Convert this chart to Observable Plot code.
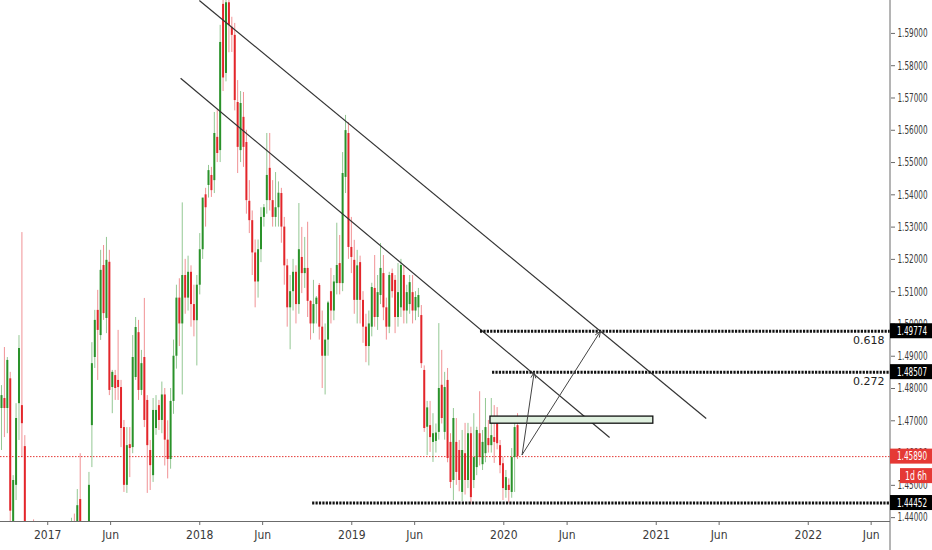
<!DOCTYPE html>
<html><head><meta charset="utf-8">
<script src="https://cdn.jsdelivr.net/npm/d3@7"></script>
<script src="https://cdn.jsdelivr.net/npm/@observablehq/plot@0.6"></script>
<style>
  html,body{margin:0;padding:0;background:#fff;}
  svg{display:block;}
</style>
</head><body>
<div id="chart"></div>
<script>
// ---------- DATA (weekly candles, first week 2016-09-12) ----------
const firstWeek = "2016-09-12";
const open = [1.4738,1.4769,1.4738,1.4830,1.4380,1.4500,1.4753,1.4747,1.4620,1.4300,
1.4180,1.4260,1.4220,1.4100,1.4150,1.4050,1.3980,1.4060,1.4000,1.4080,
1.4020,1.3950,1.4050,1.4150,1.4250,1.4370,1.4300,1.4456,1.4330,1.4370,
1.4320,1.4685,1.4896,1.5042,1.4964,1.5181,1.5017,1.5191,1.4803,1.4840,
1.4825,1.4803,1.4679,1.4500,1.4626,1.4617,1.4834,1.4973,1.4794,1.4896,
1.4763,1.4608,1.4530,1.4676,1.4747,1.4701,1.4780,1.4640,1.4580,1.4760,
1.4900,1.5080,1.5000,1.5150,1.5080,1.5160,1.5060,1.5010,1.5120,1.5230,
1.5400,1.5429,1.5460,1.5444,1.5578,1.5537,1.5990,1.5776,1.5995,1.5919,
1.5894,1.5686,1.5537,1.5640,1.5562,1.5380,1.5320,1.5220,1.5130,1.5230,
1.5330,1.5382,1.5482,1.5382,1.5330,1.5360,1.5404,1.5300,1.5180,1.5050,
1.5100,1.5160,1.5060,1.5206,1.5156,1.5172,1.5070,1.5000,1.5060,1.5119,
1.4990,1.4900,1.4950,1.5100,1.5040,1.5125,1.5187,1.5125,1.5454,1.5590,
1.5237,1.5197,1.5073,1.5190,1.5073,1.4990,1.4930,1.4990,1.5110,1.5020,
1.5088,1.5156,1.5050,1.4990,1.5156,1.5135,1.5020,1.5050,1.5150,1.5040,
1.5060,1.5097,1.5040,1.5050,1.5026,1.4856,1.4680,1.4685,1.4633,1.4636,
1.4664,1.4810,1.4664,1.4825,1.4633,1.4515,1.4633,1.4608,1.4478,1.4598,
1.4515,1.4660,1.4515,1.4555,1.4660,1.4564,1.4598,1.4645,1.4623,1.4648,
1.4691,1.4623,1.4567,1.4484,1.4500,1.4478,1.4586,1.4685];
const high = [1.4809,1.4927,1.4896,1.4850,1.4530,1.4753,1.4964,1.5283,1.4654,1.4370,
1.4300,1.4393,1.4270,1.4200,1.4180,1.4100,1.4120,1.4130,1.4150,1.4120,
1.4060,1.4100,1.4200,1.4300,1.4398,1.4411,1.4487,1.4598,1.4385,1.4386,
1.4540,1.4942,1.5042,1.5104,1.5228,1.5243,1.5268,1.5228,1.4856,1.4856,
1.4980,1.4825,1.4701,1.4679,1.4679,1.4964,1.5020,1.5011,1.4918,1.5079,
1.4778,1.4639,1.4769,1.4778,1.4763,1.4820,1.4800,1.4700,1.4800,1.4950,
1.5120,1.5140,1.5375,1.5200,1.5210,1.5180,1.5120,1.5150,1.5280,1.5380,
1.5420,1.5491,1.5485,1.5655,1.5662,1.5925,1.6050,1.6060,1.6040,1.5950,
1.5931,1.5754,1.5720,1.5717,1.5600,1.5444,1.5350,1.5260,1.5260,1.5360,
1.5370,1.5590,1.5590,1.5444,1.5469,1.5440,1.5420,1.5330,1.5200,1.5150,
1.5200,1.5180,1.5373,1.5299,1.5268,1.5315,1.5072,1.5135,1.5085,1.5125,
1.5040,1.5000,1.5070,1.5172,1.5150,1.5312,1.5274,1.5531,1.5646,1.5624,
1.5330,1.5259,1.5228,1.5210,1.5100,1.5030,1.5040,1.5126,1.5212,1.5150,
1.5249,1.5212,1.5080,1.5160,1.5170,1.5150,1.5187,1.5200,1.5180,1.5120,
1.5150,1.5150,1.5100,1.5110,1.5057,1.4870,1.4760,1.4760,1.4722,1.4690,
1.5001,1.4918,1.4850,1.4862,1.4660,1.4738,1.4707,1.4639,1.4670,1.4692,
1.4692,1.4680,1.4722,1.4680,1.4790,1.4670,1.4769,1.4701,1.4769,1.4747,
1.4741,1.4639,1.4586,1.4546,1.4520,1.4614,1.4692,1.4722];
const low = [1.4608,1.4648,1.4660,1.4380,1.4340,1.4453,1.4639,1.4586,1.4250,1.4120,
1.4130,1.4150,1.4050,1.4030,1.3980,1.3900,1.3950,1.3960,1.3970,1.3950,
1.3880,1.3920,1.4020,1.4100,1.4220,1.4250,1.4270,1.4300,1.4280,1.4250,
1.4300,1.4555,1.4862,1.4825,1.4949,1.5011,1.4970,1.4778,1.4722,1.4763,
1.4763,1.4617,1.4478,1.4475,1.4524,1.4598,1.4825,1.4763,1.4778,1.4679,
1.4475,1.4484,1.4509,1.4655,1.4670,1.4660,1.4560,1.4520,1.4550,1.4720,
1.4860,1.4930,1.4780,1.5030,1.5040,1.4990,1.4960,1.4870,1.5090,1.5200,
1.5300,1.5390,1.5392,1.5404,1.5500,1.5500,1.5720,1.5750,1.5840,1.5841,
1.5660,1.5466,1.5500,1.5485,1.5340,1.5280,1.5150,1.5050,1.5080,1.5190,
1.5300,1.5340,1.5350,1.5300,1.5300,1.5300,1.5250,1.5120,1.4990,1.4920,
1.5040,1.5000,1.5030,1.5094,1.5110,1.5020,1.4950,1.4970,1.5000,1.4950,
1.4800,1.4780,1.4900,1.5000,1.5010,1.5090,1.5090,1.5100,1.5404,1.5200,
1.5156,1.5030,1.5000,1.5000,1.4940,1.4880,1.4870,1.4960,1.4990,1.4980,
1.5060,1.5010,1.4950,1.4970,1.5080,1.4970,1.4990,1.5020,1.5000,1.5000,
1.5030,1.5000,1.5010,1.5020,1.4862,1.4664,1.4592,1.4602,1.4571,1.4600,
1.4640,1.4690,1.4640,1.4570,1.4490,1.4453,1.4500,1.4480,1.4450,1.4470,
1.4490,1.4440,1.4490,1.4530,1.4560,1.4546,1.4570,1.4600,1.4600,1.4568,
1.4610,1.4536,1.4453,1.4460,1.4445,1.4460,1.4478,1.4580];
const close = [1.4778,1.4738,1.4887,1.4420,1.4515,1.4707,1.4924,1.4691,1.4300,1.4180,
1.4260,1.4220,1.4100,1.4150,1.4050,1.3980,1.4060,1.4000,1.4080,1.4020,
1.3950,1.4050,1.4150,1.4250,1.4370,1.4300,1.4437,1.4330,1.4370,1.4320,
1.4500,1.4877,1.5011,1.4980,1.5166,1.5032,1.5197,1.4794,1.4850,1.4800,
1.4803,1.4676,1.4500,1.4623,1.4614,1.4896,1.4989,1.4794,1.4877,1.4701,
1.4623,1.4561,1.4732,1.4732,1.4701,1.4780,1.4640,1.4580,1.4760,1.4900,
1.5080,1.5000,1.5150,1.5080,1.5160,1.5060,1.5010,1.5120,1.5230,1.5390,
1.5360,1.5475,1.5413,1.5590,1.5528,1.5872,1.5762,1.5995,1.5925,1.5894,
1.5692,1.5547,1.5683,1.5547,1.5382,1.5320,1.5220,1.5130,1.5230,1.5330,
1.5360,1.5460,1.5382,1.5330,1.5360,1.5405,1.5300,1.5180,1.5050,1.5100,
1.5160,1.5060,1.5230,1.5156,1.5172,1.5070,1.5000,1.5060,1.5080,1.4990,
1.4900,1.4950,1.5065,1.5040,1.5130,1.5181,1.5125,1.5466,1.5599,1.5237,
1.5206,1.5073,1.5180,1.5073,1.4990,1.4930,1.5000,1.5113,1.5020,1.5097,
1.5172,1.5050,1.4990,1.5150,1.5100,1.5020,1.5097,1.5181,1.5040,1.5097,
1.5128,1.5040,1.5082,1.5088,1.4877,1.4676,1.4740,1.4648,1.4660,1.4662,
1.4800,1.4707,1.4803,1.4583,1.4509,1.4707,1.4540,1.4515,1.4608,1.4515,
1.4660,1.4462,1.4586,1.4670,1.4586,1.4633,1.4679,1.4623,1.4654,1.4633,
1.4629,1.4561,1.4490,1.4524,1.4484,1.4586,1.4679,1.4589];

// price axis ticks and time axis ticks
const yTicks = [1.44,1.45,1.46,1.47,1.48,1.49,1.50,1.51,1.52,1.53,1.54,1.55,1.56,1.57,1.58,1.59];
const xTickDates = ["2017-01-01","2017-06-01","2018-01-01","2018-06-01","2019-01-01","2019-06-01",
                    "2020-01-01","2020-06-01","2021-01-01","2021-06-01","2022-01-01","2022-06-01"];
const xTickLabels = ["2017","Jun","2018","Jun","2019","Jun","2020","Jun","2021","Jun","2022","Jun"];

// annotations
const trendStart = ["2017-12-31","2017-11-16"];
const trendStartPrice = [1.6002,1.5761];
const trendEnd = ["2021-05-01","2020-09-11"];
const trendEndPrice = [1.4707,1.4648];
const levelPrices = [1.49774,1.48507,1.44452];
const levelStart = ["2019-11-06","2019-12-05","2018-09-29"];
const levelLabels = ["0.618","0.272",""];
const lastPrice = 1.45890;
const countdown = "1d 6h";
const zoneStart = "2019-11-30", zoneEnd = "2020-12-25";
const zoneLow = 1.4691, zoneHigh = 1.4713;
const arrowStart = "2020-02-14", arrowStartPrice = 1.4595;
const arrowEnd = ["2020-03-14","2020-08-20"];
const arrowEndPrice = [1.48507,1.49774];

// ---------- BUILD ----------
const DAY = 864e5;
const t0w = Date.parse(firstWeek + "T00:00:00Z");
const candles = open.map((o, i) => ({
  date: new Date(t0w + i * 7 * DAY), open: o, high: high[i], low: low[i], close: close[i]
}));
const pxPerDay = 0.4165, plotW = 890;
const xDomain = [new Date(t0w - 2.4 * DAY), new Date(t0w - 2.4 * DAY + plotW / pxPerDay * DAY)];
const yDomain = [1.4388, 1.6002];
const D = s => new Date(s + "T00:00:00Z");

const trends = trendStart.map((s, i) => ({x1: D(s), y1: trendStartPrice[i], x2: D(trendEnd[i]), y2: trendEndPrice[i]}));
const levels = levelPrices.map((p, i) => ({y: p, x1: D(levelStart[i]), x2: xDomain[1], label: levelLabels[i]}));
const arrows = arrowEnd.map((e, i) => ({x1: D(arrowStart), y1: arrowStartPrice, x2: D(e), y2: arrowEndPrice[i]}));
const zone = [{x1: D(zoneStart), x2: D(zoneEnd), y1: zoneLow, y2: zoneHigh}];
const tickDates = xTickDates.map(D);

const up = candles.filter(d => d.close >= d.open);
const down = candles.filter(d => d.close < d.open);
const GREEN = "#2a922a", RED = "#e3262b";
const FONT = "'Liberation Sans Narrow','DejaVu Sans Condensed','Liberation Sans',Arial,sans-serif";

const chart = Plot.plot({
  width: 932, height: 550,
  marginLeft: 0, marginRight: 42, marginTop: 0, marginBottom: 29,
  x: {type: "utc", domain: xDomain},
  y: {domain: yDomain},
  style: {background: "#fff", fontFamily: FONT, fontSize: "11px", color: "#333", overflow: "visible"},
  marks: [
    Plot.ruleY([yDomain[0]], {stroke: "#6b6b6b", strokeWidth: 1}),
    Plot.axisX({ticks: tickDates, tickFormat: d => xTickLabels[tickDates.findIndex(t => +t === +d)],
      tickSize: 4, tickPadding: 5, label: null, stroke: "#6b6b6b", fill: "#3a3a3a", fontSize: 12}),
    Plot.axisY({anchor: "right", ticks: yTicks, tickFormat: d => d.toFixed(5),
      tickSize: 4, tickPadding: 3, label: null, stroke: "#6b6b6b", fill: "#3a3a3a", fontSize: 12}),
    Plot.ruleY([lastPrice], {stroke: "#e53935", strokeWidth: 1, strokeDasharray: "1.5,1.5"}),
    // wicks
    Plot.ruleX(up, {x: "date", y1: "low", y2: "high", stroke: GREEN, strokeOpacity: 0.5, strokeWidth: 1, clip: true}),
    Plot.ruleX(down, {x: "date", y1: "low", y2: "high", stroke: RED, strokeOpacity: 0.5, strokeWidth: 1, clip: true}),
    // bodies
    Plot.ruleX(up, {x: "date", y1: "open", y2: "close", stroke: GREEN, strokeWidth: 2, clip: true}),
    Plot.ruleX(down, {x: "date", y1: "open", y2: "close", stroke: RED, strokeWidth: 2, clip: true}),
    // trend lines
    Plot.link(trends, {x1: "x1", y1: "y1", x2: "x2", y2: "y2", stroke: "#333", strokeWidth: 1.2, clip: true}),
    // fib levels
    Plot.ruleY(levels, {y: "y", x1: "x1", x2: "x2", stroke: "#111", strokeWidth: 3, strokeDasharray: "2.2,1.2"}),
    Plot.text(levels, {y: "y", text: "label", frameAnchor: "right", textAnchor: "end", dx: -6, dy: 9,
      fill: "#222", fontSize: 11, fontFamily: "'DejaVu Sans',sans-serif"}),
    // zone
    Plot.rect(zone, {x1: "x1", x2: "x2", y1: "y1", y2: "y2", fill: "#dff0df", stroke: "#111", strokeWidth: 1.3}),
    // arrows
    Plot.arrow(arrows, {x1: "x1", y1: "y1", x2: "x2", y2: "y2", stroke: "#444", strokeWidth: 1, headLength: 9, headAngle: 45})
  ]
});

const svg = d3.select(chart);
// condense the price-axis tick labels to the narrow look of the reference
svg.selectAll("g[aria-label='y-axis tick label'] text")
  .attr("textLength", 30).attr("lengthAdjust", "spacingAndGlyphs").attr("text-anchor", "start");

// price-axis line, price labels (positioned through the plot's own y scale)
const ys = chart.scale("y");
const axisX0 = 932 - 42;
svg.append("line").attr("x1", axisX0).attr("x2", axisX0).attr("y1", 0).attr("y2", 550)
  .attr("stroke", "#6b6b6b").attr("stroke-width", 1);
const boxes = [
  {v: levelPrices[0], fill: "#000"},
  {v: levelPrices[1], fill: "#000"},
  {v: lastPrice, fill: "#e53935"},
  {v: levelPrices[2], fill: "#000"}
];
const g = svg.append("g").attr("font-family", FONT).attr("font-size", 12).attr("text-anchor", "start");
boxes.forEach(b => {
  const y = ys.apply(b.v);
  g.append("rect").attr("x", axisX0).attr("y", y - 7.5).attr("width", 42).attr("height", 15).attr("fill", b.fill);
  g.append("text").attr("x", axisX0 + 7).attr("y", y).attr("dy", "0.35em").attr("fill", "#fff")
    .attr("textLength", 30).attr("lengthAdjust", "spacingAndGlyphs").text(b.v.toFixed(5));
});
{
  const y = ys.apply(lastPrice) + 19.5;
  g.append("rect").attr("x", 900).attr("y", y - 7.5).attr("width", 32).attr("height", 15).attr("fill", "#e53935");
  g.append("text").attr("x", 905).attr("y", y).attr("dy", "0.35em").attr("fill", "#fff")
    .attr("textLength", 22).attr("lengthAdjust", "spacingAndGlyphs").text(countdown);
}
document.getElementById("chart").appendChild(chart);
</script>
</body></html>
